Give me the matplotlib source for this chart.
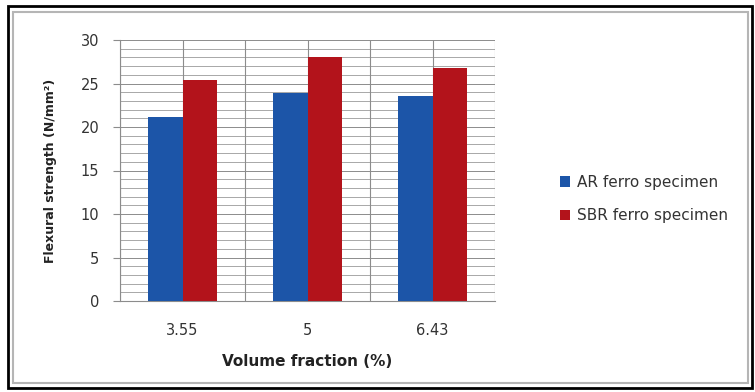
import matplotlib
matplotlib.use("Agg")
import matplotlib.pyplot as plt
import numpy as np
from matplotlib.patches import Rectangle

categories = ["3.55", "5", "6.43"]
series_names = ["AR ferro specimen", "SBR ferro specimen"]
ar_values = [21.1, 23.9, 23.6]
sbr_values = [25.4, 28.1, 26.8]
y_ticks = [0, 5, 10, 15, 20, 25, 30]

blue = "#1C55A8"
red = "#B3131B"

W, H = 755, 392
fig = plt.figure(figsize=(W / 100, H / 100), dpi=100)
fig.patch.set_facecolor("white")

# frame lines around the chart
fig.patches.append(Rectangle((8 / W, 1 - 388 / H), 744 / W, 382 / H, transform=fig.transFigure,
                             fill=False, edgecolor="black", linewidth=2.0))
fig.patches.append(Rectangle((13 / W, 1 - 383 / H), 735 / W, 371 / H, transform=fig.transFigure,
                             fill=False, edgecolor="#B5B5B5", linewidth=1.5))

ax = fig.add_axes([120 / W, 1 - 301 / H, 375 / W, 261 / H])
x = np.arange(len(categories))
bw = 0.275
ax.bar(x - bw / 2, ar_values, bw, color=blue, label=series_names[0], zorder=3)
ax.bar(x + bw / 2, sbr_values, bw, color=red, label=series_names[1], zorder=3)

ax.set_xlim(-0.5, len(categories) - 0.5)
ax.set_ylim(0, 30)

# gridlines: horizontal every unit, vertical at category centres and edges
for v in np.arange(1, 31):
    ax.axhline(v, color="#A8A8A8" if v % 5 else "#8C8C8C", linewidth=0.7, zorder=1)
for v in np.arange(-0.5, len(categories), 0.5):
    ax.axvline(v, color="#8C8C8C", linewidth=0.8, zorder=1)

ax.set_yticks(y_ticks)
ax.set_yticklabels([str(t) for t in y_ticks])
ax.set_xticks(x)
ax.set_xticklabels(categories)
ax.tick_params(axis="y", length=5, width=0.8, color="#8C8C8C", pad=10, labelsize=10.5, labelcolor="#333333")
ax.tick_params(axis="x", length=0, pad=16, labelsize=10.5, labelcolor="#333333")
for s in ["top", "right"]:
    ax.spines[s].set_visible(False)
for s in ["left", "bottom"]:
    ax.spines[s].set_color("#8C8C8C")
    ax.spines[s].set_linewidth(0.8)

ax.set_xlabel("Volume fraction (%)", fontsize=11, fontweight="bold", color="#222222", labelpad=11)
ax.set_ylabel("Flexural strength (N/mm²)", fontsize=9, fontweight="bold", color="#222222", labelpad=17)

leg = ax.legend(loc="center left", bbox_to_anchor=(546 / W, 1 - 199 / H), bbox_transform=fig.transFigure,
                frameon=False, fontsize=11, handlelength=0.65, handleheight=0.65, handletextpad=0.45,
                labelspacing=1.2, labelcolor="#333333")

fig.savefig("out.png", dpi=100, facecolor="white")
